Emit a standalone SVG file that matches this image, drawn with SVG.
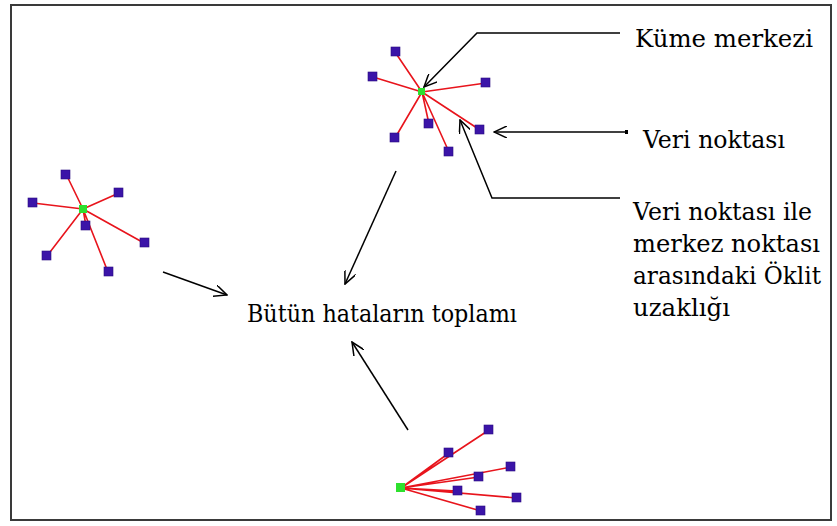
<svg xmlns="http://www.w3.org/2000/svg" width="837" height="526" viewBox="0 0 837 526">
<defs>
<style>
.bg{fill:#ffffff}
.frame{fill:none;stroke:#3a3a3a;stroke-width:2}
.edge{stroke:#e8141c;stroke-width:1.6;fill:none}
.pt{fill:#3b14a8;stroke:#2a0a80;stroke-width:0.6}
.ctr{fill:#2ee02e}
.conn{fill:none;stroke:#000;stroke-width:1.5;marker-end:url(#arr)}
.lbl{font-size:25px;fill:#000}
</style>
<marker id="arr" viewBox="0 0 14 12" refX="13" refY="6" markerWidth="14" markerHeight="12" markerUnits="userSpaceOnUse" orient="auto">
<path d="M0,0 L13,6 L0,12" fill="none" stroke="#000" stroke-width="1.5"/>
</marker>
</defs>
<rect class="bg" x="0" y="0" width="837" height="526"/>
<rect class="frame" x="11" y="5" width="820" height="515"/>

<g id="cluster-top">
<path class="edge" d="M422,92 L395,52 M422,92 L373,77 M422,92 L486,83 M422,92 L429,124 M422,92 L480,130 M422,92 L395,138 M422,92 L449,152"/>
<rect class="pt" x="391" y="47" width="9" height="9"/>
<rect class="pt" x="368" y="72" width="9" height="9"/>
<rect class="pt" x="481" y="78" width="9" height="9"/>
<rect class="pt" x="424" y="119" width="9" height="9"/>
<rect class="pt" x="475" y="125" width="9" height="9"/>
<rect class="pt" x="390" y="133" width="9" height="9"/>
<rect class="pt" x="444" y="147" width="9" height="9"/>
<rect class="ctr" x="418" y="88" width="7" height="7"/>
</g>

<g id="cluster-left">
<path class="edge" d="M83,209 L66,174 M83,209 L33,203 M83,209 L119,193 M83,209 L86,226 M83,209 L144,243 M83,209 L47,256 M83,209 L108,272"/>
<rect class="pt" x="61" y="170" width="9" height="9"/>
<rect class="pt" x="28" y="198" width="9" height="9"/>
<rect class="pt" x="114" y="188" width="9" height="9"/>
<rect class="pt" x="81" y="221" width="9" height="9"/>
<rect class="pt" x="140" y="238" width="9" height="9"/>
<rect class="pt" x="42" y="251" width="9" height="9"/>
<rect class="pt" x="104" y="267" width="9" height="9"/>
<rect class="ctr" x="79" y="205" width="8" height="8"/>
</g>

<g id="cluster-bottom">
<path class="edge" d="M401,488 L489,430 M401,488 L449,453 M401,488 L511,467 M401,488 L479,477 M401,488 L457,491 M401,488 L517,498 M401,488 L481,511"/>
<rect class="pt" x="484" y="425" width="9" height="9"/>
<rect class="pt" x="444" y="448" width="9" height="9"/>
<rect class="pt" x="506" y="462" width="9" height="9"/>
<rect class="pt" x="474" y="472" width="9" height="9"/>
<rect class="pt" x="453" y="486" width="9" height="9"/>
<rect class="pt" x="512" y="493" width="9" height="9"/>
<rect class="pt" x="476" y="506" width="9" height="9"/>
<rect class="ctr" x="396" y="483" width="9" height="9"/>
</g>

<g font-family="'DejaVu Serif', 'Liberation Serif', serif">
<g id="label-kume">
<text class="lbl" x="635" y="47" textLength="178" lengthAdjust="spacingAndGlyphs">Küme merkezi</text>
</g>
<g id="label-veri">
<text class="lbl" x="643" y="148" textLength="142" lengthAdjust="spacingAndGlyphs">Veri noktası</text>
</g>
<g id="label-oklit">
<text class="lbl" x="633" y="220" textLength="179" lengthAdjust="spacingAndGlyphs">Veri noktası ile</text>
<text class="lbl" x="633" y="252" textLength="187" lengthAdjust="spacingAndGlyphs">merkez noktası</text>
<text class="lbl" x="633" y="284" textLength="188" lengthAdjust="spacingAndGlyphs">arasındaki Öklit</text>
<text class="lbl" x="633" y="316" textLength="97" lengthAdjust="spacingAndGlyphs">uzaklığı</text>
</g>
<g id="label-toplam">
<text class="lbl" x="247" y="322" textLength="270" lengthAdjust="spacingAndGlyphs">Bütün hataların toplamı</text>
</g>
</g>

<g id="connectors">
<polyline class="conn" points="620,33 477,33 424,87"/>
<line class="conn" x1="627" y1="132" x2="494" y2="132"/>
<rect x="625" y="130" width="3" height="4" fill="#000"/>
<polyline class="conn" points="620,198 492,198 460,120"/>
<line class="conn" x1="163" y1="272" x2="227" y2="295"/>
<line class="conn" x1="396" y1="171" x2="345" y2="284"/>
<line class="conn" x1="408" y1="430" x2="352" y2="342"/>
</g>
</svg>
